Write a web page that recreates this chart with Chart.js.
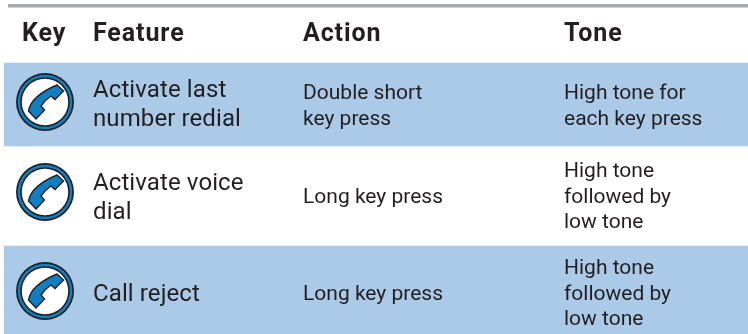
<!DOCTYPE html>
<html>
<head>
<meta charset="utf-8">
<title>Key functions</title>
<script src="https://cdn.jsdelivr.net/npm/chart.js@4"></script>
<style>
html, body { margin: 0; padding: 0; background: #fff; overflow: hidden; }
canvas { display: block; }
</style>
</head>
<body>
<canvas id="keyTable" width="748" height="334"></canvas>
<script>
// table content
const headers = ['Key', 'Feature', 'Action', 'Tone'];
const features = [['Activate last', 'number redial'], ['Activate voice', 'dial'], ['Call reject']];
const actions = [['Double short', 'key press'], ['Long key press'], ['Long key press']];
const tones = [['High tone for', 'each key press'], ['High tone', 'followed by', 'low tone'], ['High tone', 'followed by', 'low tone']];

// heights of header + rows, stacked down the y axis
const rowNames = ['Header', 'Row 1', 'Row 2', 'Row 3'];
const rowSpans = [63, 83, 100, 88];
const rowColors = ['rgba(0,0,0,0)', '#abcae8', 'rgba(0,0,0,0)', '#abcae8'];

const TEXT = '#231f20';
const baseFont = 'Roboto, sans-serif';

function drawLines(ctx, lines, x, baselines) {
    lines.forEach((line, i) => ctx.fillText(line, x, baselines[i]));
}

function drawPhoneIcon(ctx, cx, cy) {
    const rings = [[29, '#231f20'], [27.3, '#0f7fc4'], [24.8, '#231f20'], [23.2, '#ffffff']];
    rings.forEach(([r, color]) => {
        ctx.beginPath();
        ctx.arc(cx, cy, r, 0, Math.PI * 2);
        ctx.fillStyle = color;
        ctx.fill();
    });
    // handset
    ctx.save();
    ctx.translate(cx, cy);
    ctx.beginPath();
    ctx.moveTo(12, -17);
    ctx.lineTo(18.5, -11);
    ctx.lineTo(10, -2.5);
    ctx.lineTo(6, -6);
    ctx.quadraticCurveTo(0, -2, -4, 4);
    ctx.lineTo(-0.5, 8);
    ctx.lineTo(-9, 17);
    ctx.lineTo(-16.5, 9);
    ctx.quadraticCurveTo(-14, -6, 12, -17);
    ctx.closePath();
    ctx.fillStyle = '#0f7fc4';
    ctx.fill();
    ctx.strokeStyle = '#231f20';
    ctx.lineWidth = 1.4;
    ctx.stroke();
    ctx.restore();
}

const tablePlugin = {
    id: 'tablePlugin',
    afterDatasetsDraw(chart) {
        const ctx = chart.ctx;
        ctx.save();

        // grey rule on top
        ctx.fillStyle = '#a7a9ac';
        ctx.fillRect(8, 4, 740, 3.5);

        ctx.fillStyle = TEXT;
        ctx.textBaseline = 'alphabetic';

        ctx.letterSpacing = '0.9px';
        ctx.font = 'bold 25px ' + baseFont;
        const headerX = [22, 93, 303, 564];
        headers.forEach((h, i) => ctx.fillText(h, headerX[i], 41));

        const featureY = [[97, 126], [190, 219], [301]];
        const actionY = [[99, 125], [203], [300]];
        const toneY = [[99, 125], [177, 203, 228], [274, 300, 325]];

        ctx.letterSpacing = '0.1px';
        ctx.font = '24px ' + baseFont;
        features.forEach((lines, i) => drawLines(ctx, lines, 93, featureY[i]));

        ctx.letterSpacing = '0px';
        ctx.font = '21px ' + baseFont;
        actions.forEach((lines, i) => drawLines(ctx, lines, 303, actionY[i]));
        tones.forEach((lines, i) => drawLines(ctx, lines, 564, toneY[i]));

        ctx.restore();

        [102, 192, 291].forEach(cy => drawPhoneIcon(ctx, 45, cy));
    }
};

new Chart(document.getElementById('keyTable'), {
    type: 'bar',
    data: {
        labels: ['Rows'],
        datasets: rowSpans.map((span, i) => ({
            label: rowNames[i],
            data: [span],
            backgroundColor: rowColors[i],
            borderWidth: 0,
            categoryPercentage: 1,
            barPercentage: 1
        }))
    },
    options: {
        responsive: false,
        animation: false,
        layout: { padding: { left: 4 } },
        plugins: { legend: { display: false }, tooltip: { enabled: false } },
        scales: {
            x: { stacked: true, display: false },
            y: { stacked: true, display: false, reverse: true, min: 0, max: 334 }
        }
    },
    plugins: [tablePlugin]
});
</script>
</body>
</html>
